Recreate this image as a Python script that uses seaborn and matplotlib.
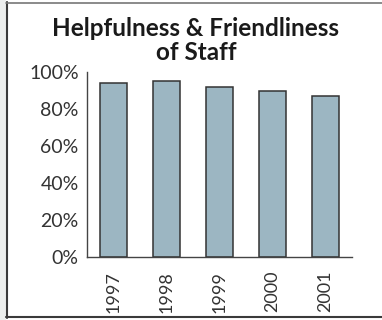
import matplotlib
matplotlib.use("Agg")
import matplotlib.pyplot as plt
import seaborn as sns
import pandas as pd
from matplotlib.lines import Line2D
from matplotlib.patches import Rectangle

# Survey results: share rating staff as helpful & friendly
years = ["1997", "1998", "1999", "2000", "2001"]
scores = [94, 95, 92, 90, 87]
y_ticks = [0, 20, 40, 60, 80, 100]
y_tick_labels = ["0%", "20%", "40%", "60%", "80%", "100%"]

sns.set_style("white")
plt.rcParams["font.family"] = ["Lato", "DejaVu Sans"]

df = pd.DataFrame({"year": years, "score": scores})

fig = plt.figure(figsize=(3.82, 3.2), dpi=100)
ax = fig.add_axes([87 / 382, 63 / 320, 265 / 382, 185 / 320])

sns.barplot(data=df, x="year", y="score", color="#9cb6c2", width=0.51,
            edgecolor="#333333", linewidth=1.1, saturation=1, ax=ax)

ax.set_ylim(0, 100)
ax.set_xlim(-0.5, 4.5)
ax.set_yticks(y_ticks)
ax.set_yticklabels(y_tick_labels)
ax.set_xlabel("")
ax.set_ylabel("")
ax.tick_params(axis="both", length=0, labelsize=14, colors="#333333")
ax.tick_params(axis="y", pad=6)
ax.tick_params(axis="x", pad=10, labelsize=13)
for lbl in ax.get_xticklabels():
    lbl.set_rotation(90)
    lbl.set_va("top")
    lbl.set_ha("center")

for side in ("top", "right"):
    ax.spines[side].set_visible(False)
for side in ("left", "bottom"):
    ax.spines[side].set_color("#444444")
    ax.spines[side].set_linewidth(1.0)

fig.text(196 / 382, 1 - 29 / 320, "Helpfulness & Friendliness", ha="center",
         va="center", fontsize=17.5, fontweight="bold", color="#1a1a1a")
fig.text(196 / 382, 1 - 53 / 320, "of Staff", ha="center",
         va="center", fontsize=17.5, fontweight="bold", color="#1a1a1a")

# Panel frame: pale strip and dark border on the left, rules top and bottom
fig.patches.append(Rectangle((0, 0), 6 / 382, 1, transform=fig.transFigure,
                             facecolor="#eceeed", edgecolor="none", zorder=0))
fig.lines.append(Line2D([7 / 382, 7 / 382], [2 / 320, 1 - 2 / 320],
                        transform=fig.transFigure, color="#3a3a3a", lw=1.5))
fig.lines.append(Line2D([6 / 382, 1], [1 - 2.5 / 320, 1 - 2.5 / 320],
                        transform=fig.transFigure, color="#777777", lw=1.2))
fig.lines.append(Line2D([6 / 382, 1], [3 / 320, 3 / 320],
                        transform=fig.transFigure, color="#3a3a3a", lw=1.5))

fig.savefig("out.png", dpi=100)
